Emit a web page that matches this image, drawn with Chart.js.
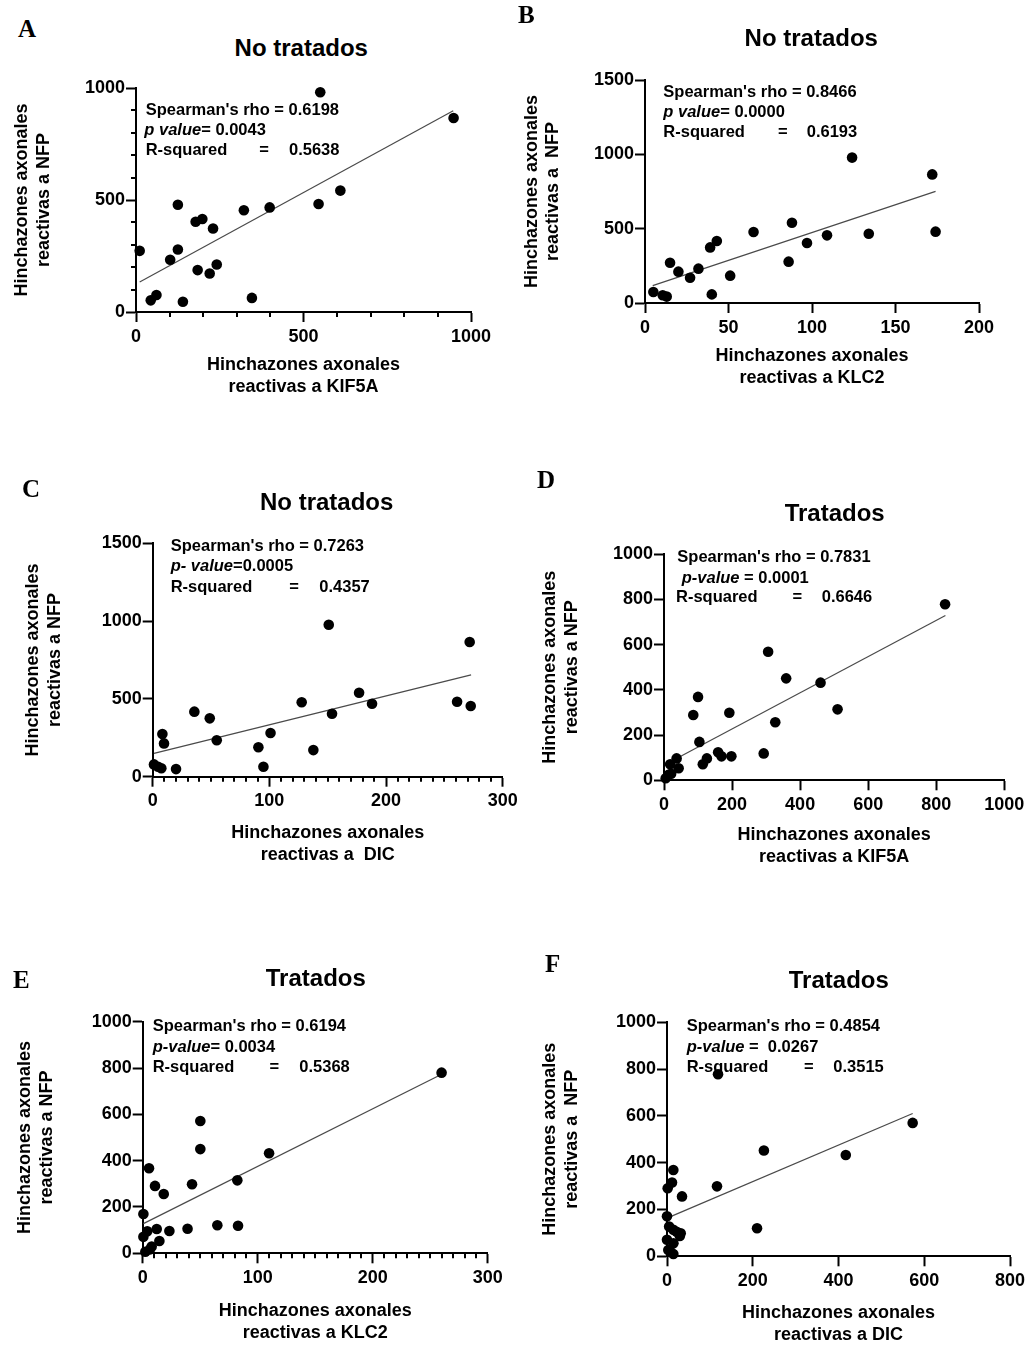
<!DOCTYPE html>
<html><head><meta charset="utf-8">
<script src="https://cdn.jsdelivr.net/npm/chart.js@4"></script>
<style>
html,body{margin:0;padding:0;background:#fff;overflow:hidden;}
#wrap{position:relative;width:1029px;height:1347px;background:#fff;}
#wrap canvas{position:absolute;left:0;top:0;}
.lt{position:absolute;font-family:'Liberation Serif','Times New Roman',serif;font-weight:bold;font-size:25px;line-height:25px;color:#000;}
.tt{position:absolute;font-family:'Liberation Sans',Arial,sans-serif;font-weight:bold;font-size:24px;line-height:24px;color:#000;transform:translateX(-50%);white-space:nowrap;}
</style></head>
<body><div id="wrap"></div>
<script>
// ---------- DATA ----------
// A: No tratados, KIF5A vs NFP
const kif5aNoTrat = [11,44,61,102,125,125,140,178,198,184,220,230,241,322,346,399,545,610,550,948];
const nfpA        = [273,52,76,233,479,279,46,403,415,187,172,373,212,454,63,467,482,542,981,866];
const fitA = [{x:11,y:134},{x:947,y:898}];
// B: No tratados, KLC2 vs NFP
const klc2NoTrat = [5,10.6,13,15,20,27,32,39,43,40,51,65,86,88,97,109,124,134,172,174];
const nfpB       = [74,52,43,271,211,170,231,374,417,58,184,478,278,540,404,455,978,466,865,480];
const fitB = [{x:4.6,y:117},{x:174,y:751}];
// C: No tratados, DIC vs NFP
const dicNoTrat = [1.1,4.6,7.4,8.3,9.7,20,35.7,48.9,54.9,90.6,94.9,101,127.7,137.7,150.9,153.7,176.9,188,260.9,271.7,272.6];
const nfpC      = [79,64,54,274,214,49,418,375,234,189,64,281,478,171,977,405,540,469,482,866,454];
const fitC = [{x:1.1,y:150},{x:272.9,y:654}];
// D: Tratados, KIF5A vs NFP
const kif5aTrat = [5,13,21,18,37,43,86,100,104,114,126,159,169,192,198,293,306,327,359,460,510,826];
const nfpD      = [9,24,29,71,97,53,289,369,170,71,97,124,106,299,106,119,569,257,451,432,314,779];
const fitD = [{x:5,y:71},{x:827,y:729}];
// E: Tratados, KLC2 vs NFP
const klc2Trat = [0.6,0.6,2.3,4,5.5,6.4,7.8,10.7,12.2,14.5,18.3,23.2,39,42.9,50.1,50.1,64.9,82.3,82.9,109.9,259.9];
const nfpE     = [170,71,7,95,367,17,29,291,105,53,256,96,106,298,571,450,121,315,119,432,780];
const fitE = [{x:0.6,y:128},{x:260,y:773}];
// F: Tratados, DIC vs NFP
const dicTrat = [0,0,1.6,3,5,11.7,14.8,14.8,14.8,22.5,30,32,35,116.6,119,210,226,417,573,15,8];
const nfpF    = [171,71,291,27,127,315,369,10,113,105,87,98,256,299,778,120,452,433,570,56,20];
const fitF = [{x:0,y:163},{x:573,y:610}];

const statsA = ["Spearman's rho = 0.6198", "p value", "= 0.0043", "0.5638"];
const statsB = ["Spearman's rho = 0.8466", "p value", "= 0.0000", "0.6193"];
const statsC = ["Spearman's rho = 0.7263", "p- value", "=0.0005", "0.4357"];
const statsD = ["Spearman's rho = 0.7831", "p-value", " = 0.0001", "0.6646"];
const statsE = ["Spearman's rho = 0.6194", "p-value", "= 0.0034", "0.5368"];
const statsF = ["Spearman's rho = 0.4854", "p-value", " =  0.0267", "0.3515"];

// ---------- LAYOUT ----------
const W = 1029, H = 1347;
const FAM = "'Liberation Sans', Arial, sans-serif";
const panels = [
 {letter:'A', lpos:[18,15.6], title:'No tratados', tpos:[301.3,35.5], area:[136,88,471,312], yw:124.8, xh:85.8,
  xmax:1000, xstep:500, xminor:100, ymax:1000, ystep:500, yminor:100, xs:kif5aNoTrat, ys:nfpA, fit:fitA,
  xt:['Hinchazones axonales','reactivas a KIF5A'], yt:['Hinchazones axonales','reactivas a NFP'],
  st:statsA, sx:145.7, px:144.3, rx:145.7, sy:[110,130,150], eqX:264, valX:289},
 {letter:'B', lpos:[518,2.3], title:'No tratados', tpos:[811.3,26.3], area:[645,80,979,303], yw:124.1, xh:85.8,
  xmax:200, xstep:50, xminor:0, ymax:1500, ystep:500, yminor:0, xs:klc2NoTrat, ys:nfpB, fit:fitB,
  xt:['Hinchazones axonales','reactivas a KLC2'], yt:['Hinchazones axonales','reactivas a  NFP'],
  st:statsB, sx:663.3, px:663.3, rx:663.3, sy:[92,112,132], eqX:782.7, valX:806.7},
 {letter:'C', lpos:[22,476], title:'No tratados', tpos:[326.7,489.6], area:[152.7,543.3,502.7,776.7], yw:130.5, xh:89.1,
  xmax:300, xstep:100, xminor:10, ymax:1500, ystep:500, yminor:0, xs:dicNoTrat, ys:nfpC, fit:fitC,
  xt:['Hinchazones axonales','reactivas a  DIC'], yt:['Hinchazones axonales','reactivas a NFP'],
  st:statsC, sx:170.7, px:170.7, rx:170.7, sy:[546,566.7,587.3], eqX:294, valX:319.3},
 {letter:'D', lpos:[537,467.3], title:'Tratados', tpos:[834.7,500.5], area:[664,554.3,1004.3,780.3], yw:124.8, xh:87.5,
  xmax:1000, xstep:200, xminor:0, ymax:1000, ystep:200, yminor:0, xs:kif5aTrat, ys:nfpD, fit:fitD,
  xt:['Hinchazones axonales','reactivas a KIF5A'], yt:['Hinchazones axonales','reactivas a NFP'],
  st:statsD, sx:677.3, px:681.7, rx:676, sy:[557.7,578.3,597.7], eqX:797.3, valX:821.7},
 {letter:'E', lpos:[13,967.3], title:'Tratados', tpos:[315.8,966.3], area:[142.7,1021.7,487.7,1253.3], yw:128.5, xh:90.5,
  xmax:300, xstep:100, xminor:10, ymax:1000, ystep:200, yminor:0, xs:klc2Trat, ys:nfpE, fit:fitE,
  xt:['Hinchazones axonales','reactivas a KLC2'], yt:['Hinchazones axonales','reactivas a NFP'],
  st:statsE, sx:152.7, px:152.7, rx:152.7, sy:[1026.7,1047.3,1067.7], eqX:274.3, valX:299.3},
 {letter:'F', lpos:[545,950.7], title:'Tratados', tpos:[838.8,968], area:[667,1022.3,1010,1256.3], yw:127.8, xh:89.5,
  xmax:800, xstep:200, xminor:0, ymax:1000, ystep:200, yminor:0, xs:dicTrat, ys:nfpF, fit:fitF,
  xt:['Hinchazones axonales','reactivas a DIC'], yt:['Hinchazones axonales','reactivas a  NFP'],
  st:statsF, sx:686.7, px:686.7, rx:686.7, sy:[1026.7,1047.3,1067.7], eqX:808.7, valX:833.3}
];

const wrap = document.getElementById('wrap');
const STAT_FONT = "16.5px " + FAM;

function statsPlugin(p){
  return {id:'stats'+p.letter, afterDatasetsDraw(chart){
    const ctx = chart.ctx; ctx.save();
    ctx.fillStyle = '#000'; ctx.textBaseline = 'middle'; ctx.textAlign = 'left';
    ctx.font = "bold " + STAT_FONT;
    ctx.fillText(p.st[0], p.sx, p.sy[0]);
    ctx.font = "italic bold " + STAT_FONT;
    ctx.fillText(p.st[1], p.px, p.sy[1]);
    const w = ctx.measureText(p.st[1]).width;
    ctx.font = "bold " + STAT_FONT;
    ctx.fillText(p.st[2], p.px + w, p.sy[1]);
    ctx.fillText('R-squared', p.rx, p.sy[2]);
    ctx.textAlign = 'center'; ctx.fillText('=', p.eqX, p.sy[2]);
    ctx.textAlign = 'left'; ctx.fillText(p.st[3], p.valX, p.sy[2]);
    ctx.restore();
  }};
}
function minorPlugin(p){
  return {id:'minor'+p.letter, afterDraw(chart){
    const ctx = chart.ctx, xs = chart.scales.x, ys = chart.scales.y, a = chart.chartArea;
    ctx.save(); ctx.strokeStyle = '#000'; ctx.lineWidth = 2;
    if (p.xminor){
      for (let v = p.xminor; v < p.xmax; v += p.xminor){
        if (Math.abs(v / p.xstep - Math.round(v / p.xstep)) < 1e-6) continue;
        const px = Math.round(xs.getPixelForValue(v));
        ctx.beginPath(); ctx.moveTo(px, a.bottom); ctx.lineTo(px, a.bottom + 5); ctx.stroke();
      }
    }
    if (p.yminor){
      for (let v = p.yminor; v < p.ymax; v += p.yminor){
        if (Math.abs(v / p.ystep - Math.round(v / p.ystep)) < 1e-6) continue;
        const py = Math.round(ys.getPixelForValue(v));
        ctx.beginPath(); ctx.moveTo(a.left, py); ctx.lineTo(a.left - 5, py); ctx.stroke();
      }
    }
    ctx.restore();
  }};
}

panels.forEach(p => {
  const lt = document.createElement('div'); lt.className = 'lt'; lt.textContent = p.letter;
  lt.style.left = p.lpos[0] + 'px'; lt.style.top = p.lpos[1] + 'px'; wrap.appendChild(lt);
  const tt = document.createElement('div'); tt.className = 'tt'; tt.textContent = p.title;
  tt.style.left = p.tpos[0] + 'px'; tt.style.top = p.tpos[1] + 'px'; wrap.appendChild(tt);

  const cv = document.createElement('canvas'); cv.width = W; cv.height = H;
  cv.style.width = W + 'px'; cv.style.height = H + 'px'; wrap.appendChild(cv);
  const [L, T, R, B] = p.area;
  const tickFont = {family: FAM, size: 18, weight: 'bold'};
  const titleFont = {family: FAM, size: 18, weight: 'bold', lineHeight: 1.2};
  const plain = v => String(v);
  new Chart(cv, {
    type: 'scatter',
    data: {datasets: [
      {data: p.xs.map((x, i) => ({x: x, y: p.ys[i]})), pointRadius: 5.3, pointHoverRadius: 5.3,
       backgroundColor: '#000', borderColor: '#000', borderWidth: 0, clip: false, order: 0},
      {data: p.fit, showLine: true, borderColor: '#4a4a4a', borderWidth: 1.2, pointRadius: 0,
       pointHoverRadius: 0, fill: false, clip: false, order: 1}
    ]},
    options: {
      responsive: false, animation: false, events: [], devicePixelRatio: 1,
      layout: {padding: {left: L - p.yw, top: T, right: W - R, bottom: H - B - p.xh}},
      plugins: {legend: {display: false}, tooltip: {enabled: false}, title: {display: false}},
      scales: {
        x: {type: 'linear', position: 'bottom', min: 0, max: p.xmax,
          ticks: {stepSize: p.xstep, font: tickFont, color: '#000', padding: 4, maxRotation: 0, autoSkip: false, callback: plain},
          grid: {drawOnChartArea: false, tickLength: 10, tickColor: '#000', tickWidth: 2},
          border: {color: '#000', width: 2},
          title: {display: true, text: p.xt, font: titleFont, color: '#000', padding: 0},
          afterFit(s){ s.height = p.xh; s.paddingLeft = 0; s.paddingRight = 0; }
        },
        y: {type: 'linear', position: 'left', min: 0, max: p.ymax,
          ticks: {stepSize: p.ystep, font: tickFont, color: '#000', padding: 1, autoSkip: false, callback: plain},
          grid: {drawOnChartArea: false, tickLength: 10, tickColor: '#000', tickWidth: 2},
          border: {color: '#000', width: 2},
          title: {display: true, text: p.yt, font: titleFont, color: '#000', padding: 0},
          afterFit(s){ s.width = p.yw; s.paddingTop = 0; s.paddingBottom = 0; }
        }
      }
    },
    plugins: [statsPlugin(p), minorPlugin(p)]
  });
});
</script>
</body></html>
